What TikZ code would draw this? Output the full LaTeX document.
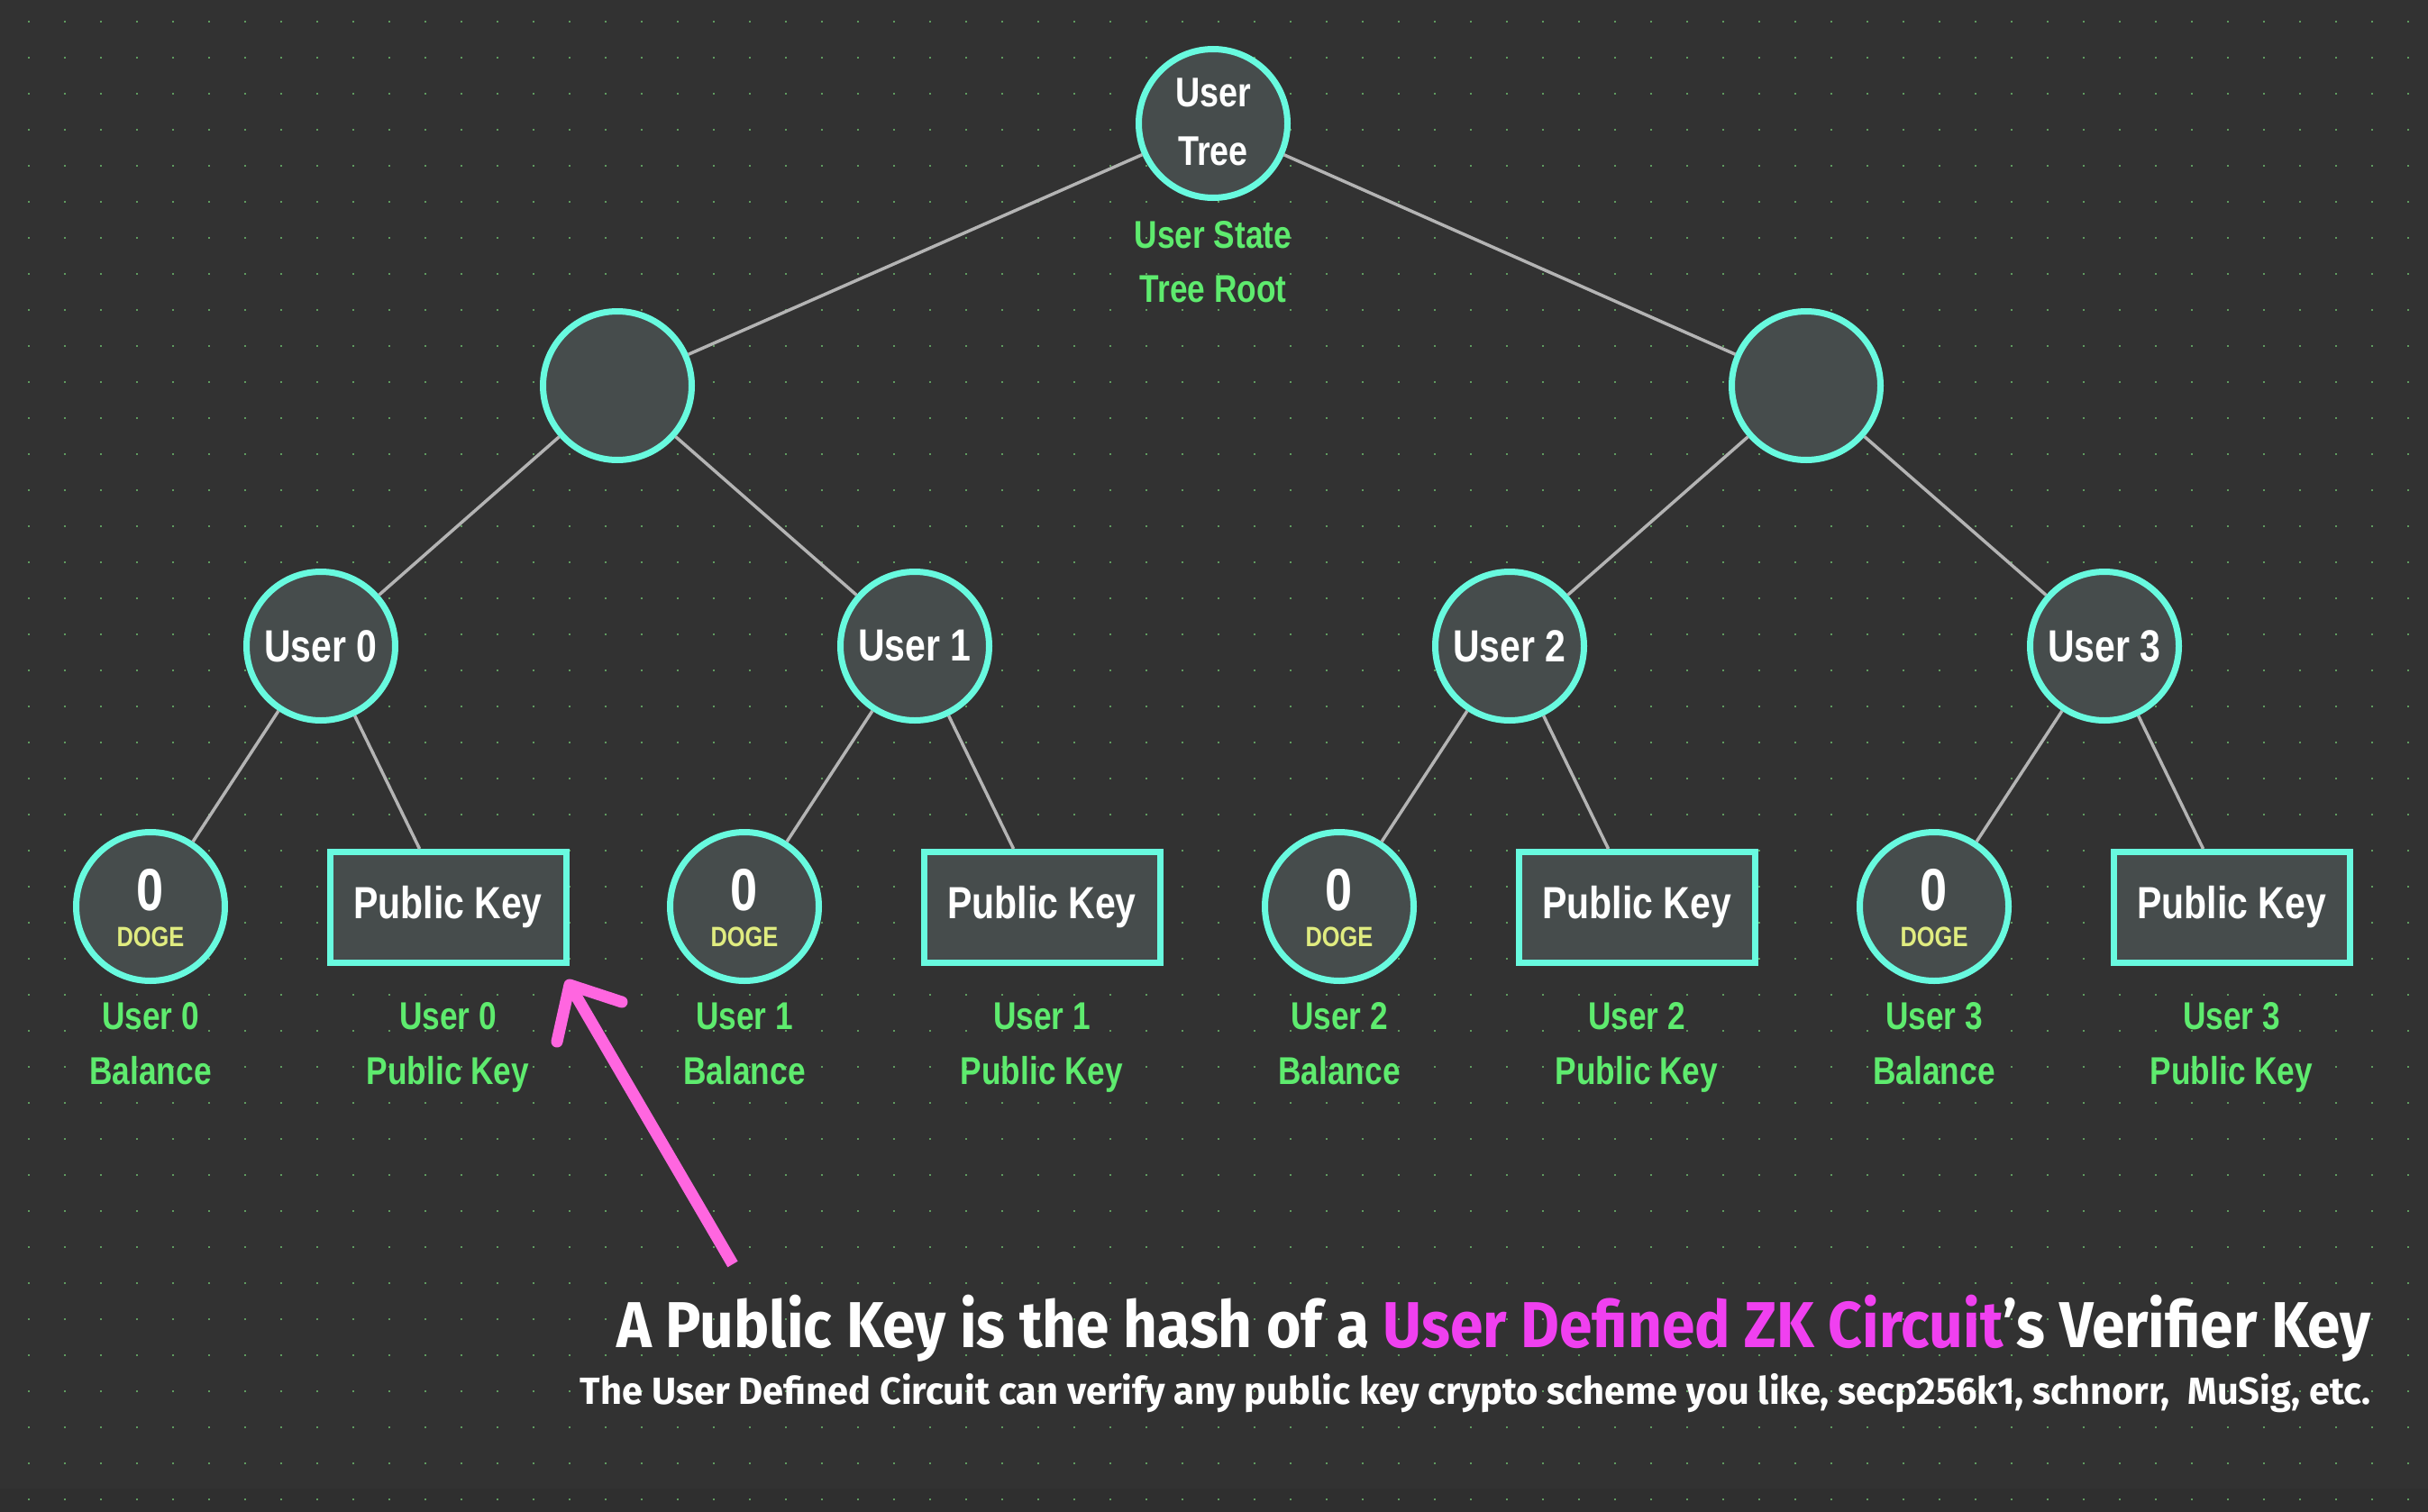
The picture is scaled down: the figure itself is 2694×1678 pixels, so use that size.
\documentclass[tikz,border=0pt]{standalone}
\usepackage{fontspec}
\setmainfont{Liberation Sans}[FakeStretch=0.82]
\newfontfamily\titlefont{Fira Sans}[FakeStretch=0.915]
\newfontfamily\subfont{Fira Sans}[FakeStretch=0.99]
\definecolor{bgc}{HTML}{323232}
\definecolor{bgb}{HTML}{2F2F2F}
\definecolor{dotc}{HTML}{5F9A5F}
\definecolor{nodefill}{HTML}{464C4C}
\definecolor{aqua}{HTML}{68FADF}
\definecolor{lblgreen}{HTML}{5EEB6E}
\definecolor{dogec}{HTML}{E0EC80}
\definecolor{linec}{HTML}{B4B4B4}
\definecolor{pinkt}{HTML}{F040F0}
\definecolor{pinka}{HTML}{FF66E0}
\tikzset{
  circnode/.style={circle, draw=aqua, line width=7pt, fill=nodefill, minimum size=165pt, inner sep=0pt, text=white, font=\bfseries\fontsize{50}{56}\selectfont},
  keybox/.style={rectangle, draw=aqua, line width=7pt, fill=nodefill, minimum width=262pt, minimum height=123pt, inner sep=0pt, text=white, font=\bfseries\fontsize{50}{56}\selectfont},
  lbl/.style={anchor=base, text=lblgreen, inner sep=0pt, font=\bfseries\fontsize{43}{50}\selectfont},
  intext/.style={anchor=base, text=white, inner sep=0pt, font=\bfseries\fontsize{46}{52}\selectfont},
  treeline/.style={draw=linec, line width=3.5pt},
  pinkline/.style={draw=pinka, line width=13pt}
}
\begin{document}
\begin{tikzpicture}[x=1pt,y=-1pt]
\useasboundingbox (0,0) rectangle (2694,1678);
\fill[bgc] (0,0) rectangle (2694,1678);
\fill[bgb] (0,1652) rectangle (2694,1678);
\foreach \i in {0,...,66}{
  \foreach \j in {0,...,41}{
    \fill[dotc] ({32+40*\i-1.3},{24+40*\j-1.3}) rectangle ++(2.6,2.6);
  }
}
% nodes
\node[circnode] (root) at (1346,137) {};
\node[intext] (rootA) at (1346,118.5) {User};
\node[intext] (rootB) at (1346,183.5) {Tree};
\node[lbl] (rootL1) at (1346,275) {User State};
\node[lbl] (rootL2) at (1346,335) {Tree Root};

\node[circnode] (L) at (685,428) {};
\node[circnode] (R) at (2004,428) {};

\node[circnode] (u0) at (356,717) {User 0};
\node[circnode] (u1) at (1015,717) {User 1};
\node[circnode] (u2) at (1675,717) {User 2};
\node[circnode] (u3) at (2335,717) {User 3};

\foreach \k/\bx/\px in {0/167/497, 1/826/1156, 2/1486/1816, 3/2146/2476}{
  \node[circnode] (bal\k) at (\bx,1006) {};
  \node[anchor=base, text=white, inner sep=0pt, font=\bfseries\fontsize{66}{70}\selectfont] (balz\k) at (\bx,1010.5) {0};
  \node[anchor=base, text=dogec, inner sep=0pt, font=\bfseries\fontsize{31}{36}\selectfont] (bald\k) at (\bx,1050) {DOGE};
  \node[keybox] (pk\k) at (\px,1007) {Public Key};
  \node[lbl] (balA\k) at (\bx,1142) {User \k};
  \node[lbl] (balB\k) at (\bx,1203) {Balance};
  \node[lbl] (pkA\k) at (\px,1142) {User \k};
  \node[lbl] (pkB\k) at (\px,1203) {Public Key};
}
% edges
\draw[treeline] (root) -- (L);
\draw[treeline] (root) -- (R);
\draw[treeline] (L) -- (u0);
\draw[treeline] (L) -- (u1);
\draw[treeline] (R) -- (u2);
\draw[treeline] (R) -- (u3);
\draw[treeline] (u0) -- (bal0);
\draw[treeline] (u0) -- (pk0);
\draw[treeline] (u1) -- (bal1);
\draw[treeline] (u1) -- (pk1);
\draw[treeline] (u2) -- (bal2);
\draw[treeline] (u2) -- (pk2);
\draw[treeline] (u3) -- (bal3);
\draw[treeline] (u3) -- (pk3);
% arrow
\coordinate (arrtail) at (813,1403);
\coordinate (arrtip) at (632,1093);
\coordinate (armA) at (690,1112);
\coordinate (armB) at (618,1156);
\draw[pinkline, line cap=butt] (arrtail) -- (arrtip);
\draw[pinkline, line cap=round, line join=round] (armA) -- (arrtip) -- (armB);
% titles
\node[anchor=base east, text=white, inner sep=0pt, font=\titlefont\bfseries\fontsize{72}{80}\selectfont] (title) at (2631,1495) {A Public Key is the hash of a \textcolor{pinkt}{User Defined ZK Circuit}’s Verifier Key};
\node[anchor=base east, text=white, inner sep=0pt, font=\subfont\bfseries\fontsize{42}{48}\selectfont] (subtitle) at (2631,1558) {The User Defined Circuit can verify any public key crypto scheme you like, secp256k1, schnorr,~~MuSig, etc.};
\end{tikzpicture}
\end{document}
